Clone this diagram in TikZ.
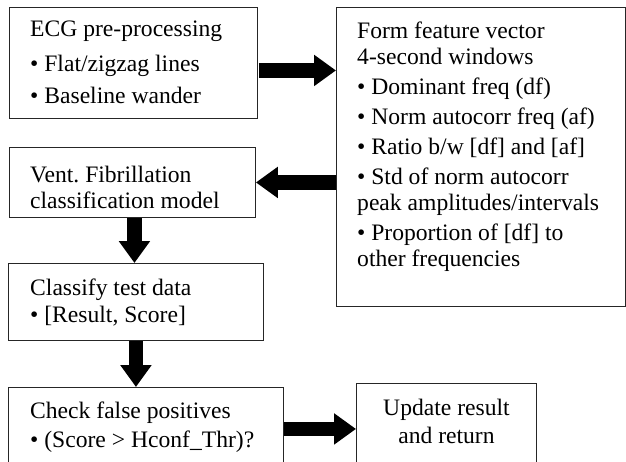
\documentclass[tikz,border=0pt]{standalone}
\usepackage{fontspec}
\setmainfont{Liberation Serif}
\usetikzlibrary{arrows.meta,positioning,calc}

\begin{document}
\begin{tikzpicture}[x=1pt, y=-1pt,
  every node/.style={font=\fontsize{23.6}{26}\selectfont\frenchspacing},
  box/.style={draw=black!85, line width=0.9pt, rectangle, inner sep=0pt, anchor=north west},
  boxtext/.style={inner sep=0pt, align=left},
  fatarrow/.style={line width=14.5pt, -{Triangle[width=30pt, length=22pt]}}]
  \useasboundingbox (0,0) rectangle (626,461);
  \clip (0,0) rectangle (626,461);

  % Boxes
  \node[box, minimum width=248pt, minimum height=111pt] (ecg) at (9,7) {};
  \node[box, minimum width=289pt, minimum height=299pt] (feat) at (336,7) {};
  \node[box, minimum width=246pt, minimum height=70pt] (vf) at (9,147) {};
  \node[box, minimum width=255pt, minimum height=77pt] (cls) at (8,263) {};
  \node[box, minimum width=275pt, minimum height=83pt] (chk) at (8,387) {};
  \node[box, minimum width=180pt, minimum height=87pt] (upd) at (356,383) {};

  % Box texts
  \node[boxtext, below right=14pt and 21pt of ecg.north west] (ecgtext)
    {ECG pre-processing\\[9pt]
     \textbullet{} Flat/zigzag lines\\[6pt]
     \textbullet{} Baseline wander};
  \node[boxtext, below right=15pt and 21pt of feat.north west] (feattext)
    {Form feature vector\\
     4-second windows\\[4pt]
     \textbullet{} Dominant freq (df)\\[4pt]
     \textbullet{} Norm autocorr freq (af)\\[4pt]
     \textbullet{} Ratio b/w [df] and [af]\\[4pt]
     \textbullet{} Std of norm autocorr\\
     peak amplitudes/intervals\\[4pt]
     \textbullet{} Proportion of [df] to\\
     other frequencies};
  \node[boxtext, below right=19pt and 21pt of vf.north west] (vftext)
    {Vent. Fibrillation\\
     classification model};
  \node[boxtext, below right=16pt and 22pt of cls.north west] (clstext)
    {Classify test data\\[1pt]
     \textbullet{} [Result, Score]};
  \node[boxtext, below right=15pt and 22pt of chk.north west] (chktext)
    {Check false positives\\[3pt]
     \textbullet{} (Score > Hconf\_Thr)?};
  \node[boxtext, align=center, below=16pt of upd.north] (updtext)
    {Update result\\[2pt]
     and return};

  % Block arrows
  \coordinate (a1) at ([xshift=1pt, yshift=-7.5pt]ecg.east);
  \draw[fatarrow] (a1) -- (a1 -| feat.west);
  \draw[fatarrow] (vf.east -| feat.west) -- (vf.east);
  \coordinate (a3) at ([xshift=2pt]vf.south);
  \draw[fatarrow] (a3) -- (a3 |- cls.north);
  \draw[fatarrow] (cls.south) -- (cls.south |- chk.north);
  \draw[fatarrow] (chk.east) -- (chk.east -| upd.west);
\end{tikzpicture}
\end{document}
